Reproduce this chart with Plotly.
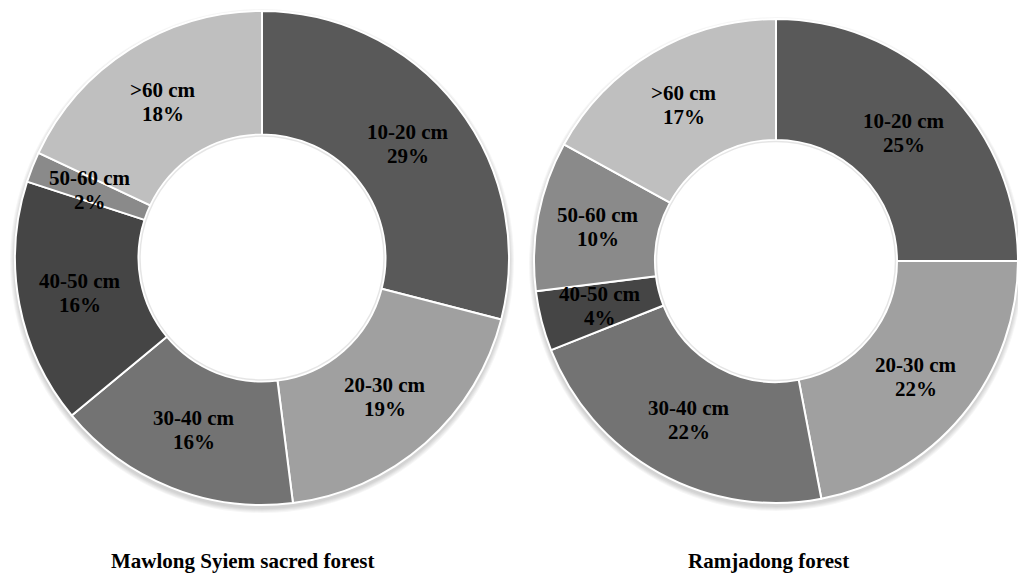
import math
import plotly.graph_objects as go

W, H = 1018, 578

# Diameter classes and their share of stems (%) in each forest
classes = ["10-20 cm", "20-30 cm", "30-40 cm", "40-50 cm", "50-60 cm", ">60 cm"]
mawlong_pct = [29, 19, 16, 16, 2, 18]
ramjadong_pct = [25, 22, 22, 4, 10, 17]
forest_names = ["Mawlong Syiem sacred forest", "Ramjadong forest"]

slice_colors = ["#595959", "#a0a0a0", "#737373", "#454545", "#8a8a8a", "#bfbfbf"]
FONT = "Liberation Serif, Times New Roman, serif"
HOLE = 0.5

# donut geometry in pixels: (centre x, centre y, outer radius)
geoms = [(262, 258, 247), (776, 261, 242)]
title_x = [242, 768]

fig = go.Figure()
annotations = []
shapes = []


def circle(cx, cy, rr, dy=0, **kw):
    return dict(
        type="circle", xref="paper", yref="paper",
        x0=(cx - rr) / W, x1=(cx + rr) / W,
        y0=1 - (cy + dy + rr) / H, y1=1 - (cy + dy - rr) / H, **kw,
    )


for name, vals, (cx, cy, r), tx in zip(forest_names, [mawlong_pct, ramjadong_pct], geoms, title_x):
    x0, x1 = max(cx - r, 0), min(cx + r, W)
    y0, y1 = cy - r, cy + r
    fig.add_trace(go.Pie(
        labels=classes,
        values=vals,
        name=name,
        hole=HOLE,
        sort=False,
        direction="clockwise",
        rotation=0,
        textinfo="none",
        hoverinfo="label+percent",
        marker=dict(colors=slice_colors, line=dict(color="white", width=2)),
        domain=dict(x=[x0 / W, x1 / W], y=[1 - y1 / H, 1 - y0 / H]),
        showlegend=False,
    ))

    # soft drop shadow under the ring, kept out of the hole by a white disc
    for k in range(1, 6):
        shapes.append(circle(cx, cy, r + k, dy=3, layer="below",
                             fillcolor="rgba(0,0,0,0.035)", line=dict(width=0)))
    hr = r * HOLE
    shapes.append(circle(cx, cy, hr, layer="below",
                         fillcolor="white", line=dict(width=0)))
    # faint rim shading along the hole edge
    shapes.append(circle(cx, cy, hr - 1.5, layer="above",
                         fillcolor="rgba(0,0,0,0)",
                         line=dict(width=1.5, color="rgba(0,0,0,0.10)")))

    # labels sit half-way across the ring at each slice's mid angle
    total = sum(vals)
    mid_r = r * (1 + HOLE) / 2
    cum = 0
    for lab, v in zip(classes, vals):
        ang = 2 * math.pi * (cum + v / 2) / total
        cum += v
        px = cx + mid_r * math.sin(ang)
        py = cy - mid_r * math.cos(ang)
        for line_text, dy in ((lab, -12), (f"{round(100 * v / total)}%", 12)):
            annotations.append(dict(
                x=px / W, y=1 - (py + dy) / H, xref="paper", yref="paper",
                text=f"<b>{line_text}</b>",
                showarrow=False, xanchor="center", yanchor="middle",
                font=dict(family=FONT, size=21, color="black"),
            ))

    annotations.append(dict(
        x=tx / W, y=1 - 561 / H, xref="paper", yref="paper",
        text=f"<b>{name}</b>", showarrow=False,
        xanchor="center", yanchor="middle",
        font=dict(family=FONT, size=21, color="black"),
    ))

fig.update_layout(
    width=W, height=H,
    margin=dict(l=0, r=0, t=0, b=0),
    paper_bgcolor="white",
    plot_bgcolor="white",
    annotations=annotations,
    shapes=shapes,
)

fig.write_html("out.html")
